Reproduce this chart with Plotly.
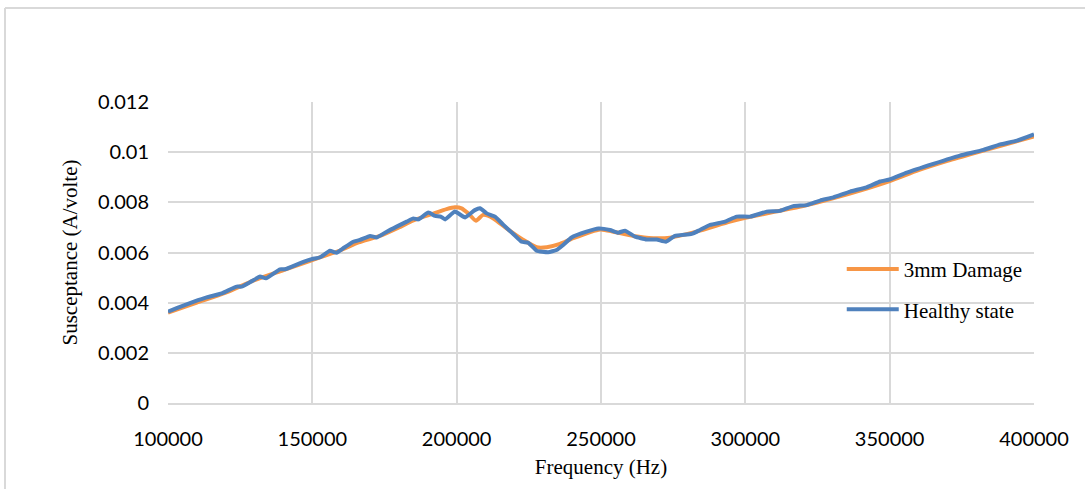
import plotly.graph_objects as go

# Healthy state (measured susceptance, A/volte) vs frequency (Hz)
healthy_freq = [
    100000, 103000, 105300, 109000, 113400, 118600, 123800, 125500, 128500,
    131900, 133900, 138800, 140500, 146900, 150000, 152700, 156100, 158400,
    160700, 164200, 166500, 170000, 172300, 175800, 179200, 182700, 185000,
    186700, 190200, 192500, 194500, 196000, 199400, 202900, 206300, 208100,
    210400, 213300, 216200, 219600, 222500, 224800, 227700, 231700, 234600,
    236900, 239800, 245000, 249100, 253100, 256000, 258300, 261800, 265800,
    269300, 272500, 275600, 281400, 284300, 287800, 293000, 297000, 301700,
    307400, 312000, 316600, 321300, 325900, 330500, 336300, 342000, 346700,
    350200, 355900, 365100, 374300, 382500, 388300, 394100, 400000,
]
healthy_b = [
    0.00364, 0.00378, 0.00388, 0.00404, 0.00421, 0.00437, 0.00464, 0.00464, 0.00482,
    0.00504, 0.00497, 0.00533, 0.00533, 0.00563, 0.00574, 0.00581, 0.00607, 0.00599,
    0.00617, 0.00643, 0.00650, 0.00666, 0.00660, 0.00683, 0.00703, 0.00723, 0.00736,
    0.00732, 0.00759, 0.00746, 0.00743, 0.00732, 0.00763, 0.00740, 0.00769, 0.00776,
    0.00756, 0.00743, 0.00710, 0.00674, 0.00643, 0.00639, 0.00607, 0.00601, 0.00610,
    0.00630, 0.00660, 0.00683, 0.00696, 0.00690, 0.00679, 0.00687, 0.00663, 0.00652,
    0.00652, 0.00643, 0.00666, 0.00674, 0.00690, 0.00710, 0.00723, 0.00743, 0.00743,
    0.00763, 0.00766, 0.00785, 0.00789, 0.00807, 0.00820, 0.00843, 0.00860, 0.00883,
    0.00892, 0.00918, 0.00953, 0.00986, 0.01009, 0.01031, 0.01046, 0.01071,
]

# 3mm damage case
damage_freq = [
    100000, 110000, 120000, 130000, 140000, 150000, 160000, 166000, 173400,
    180000, 185000, 191900, 196500, 199400, 201700, 204000, 206700, 209200,
    212700, 217300, 223100, 227700, 231200, 235800, 240400, 249700, 254300,
    261200, 268100, 273900, 283100, 294700, 300000, 310000, 320000, 330000,
    340000, 350000, 360000, 370000, 380000, 390000, 400000,
]
damage_b = [
    0.00360, 0.00400, 0.00440, 0.00490, 0.00530, 0.00570, 0.00610, 0.00640, 0.00666,
    0.00700, 0.00728, 0.00755, 0.00773, 0.00780, 0.00776, 0.00756, 0.00727, 0.00750,
    0.00736, 0.00696, 0.00650, 0.00621, 0.00621, 0.00634, 0.00657, 0.00692, 0.00683,
    0.00666, 0.00657, 0.00659, 0.00683, 0.00723, 0.00738, 0.00762, 0.00785, 0.00815,
    0.00848, 0.00885, 0.00928, 0.00965, 0.00998, 0.01030, 0.01063,
]

x_ticks = [100000, 150000, 200000, 250000, 300000, 350000, 400000]
y_ticks = [0, 0.002, 0.004, 0.006, 0.008, 0.01, 0.012]
y_tick_text = ["0", "0.002", "0.004", "0.006", "0.008", "0.01", "0.012"]

ORANGE = "#F79646"
BLUE = "#4F81BD"
GRID = "#D9D9D9"
SERIF = "Liberation Serif, Times New Roman, serif"
SANS = "Lato, Calibri, sans-serif"

fig = go.Figure()
fig.add_trace(go.Scatter(
    x=damage_freq, y=damage_b, mode="lines", name="3mm Damage",
    line=dict(color=ORANGE, width=4, shape="spline", smoothing=0.6),
    legendgroup="a",
))
fig.add_trace(go.Scatter(
    x=healthy_freq, y=healthy_b, mode="lines", name="Healthy state",
    line=dict(color=BLUE, width=4, shape="spline", smoothing=0.4),
    legendgroup="b",
))

fig.update_layout(
    width=1085, height=489,
    margin=dict(l=168, r=51, t=102, b=86),
    paper_bgcolor="white", plot_bgcolor="white",
    showlegend=True,
    legend=dict(
        x=0.778, y=0.512, xanchor="left", yanchor="top",
        font=dict(family=SERIF, size=21, color="#000000"),
        bgcolor="rgba(0,0,0,0)",
        traceorder="grouped", tracegroupgap=10,
        itemwidth=52,
    ),
    xaxis=dict(
        range=[100000, 400000], tickmode="array", tickvals=x_ticks,
        ticktext=[str(v) for v in x_ticks],
        showgrid=True, gridcolor=GRID, gridwidth=2,
        zeroline=False, showline=True, linecolor=GRID, linewidth=2,
        ticks="", ticklabelstandoff=17,
        tickfont=dict(family=SANS, size=20, color="#000000"),
        title=dict(text="Frequency (Hz)", font=dict(family=SERIF, size=21, color="#000000"), standoff=10),
        automargin=False,
    ),
    yaxis=dict(
        range=[0, 0.012], tickmode="array", tickvals=y_ticks, ticktext=y_tick_text,
        showgrid=True, gridcolor=GRID, gridwidth=2,
        zeroline=False, showline=False,
        ticks="", ticklabelstandoff=18,
        tickfont=dict(family=SANS, size=20, color="#000000"),
        title=dict(text="Susceptance (A/volte)", font=dict(family=SERIF, size=21, color="#000000"), standoff=14),
        automargin=False,
    ),
    shapes=[
        # chart frame: top and left edges
        dict(type="line", xref="paper", yref="paper", x0=-0.1882, x1=1.06, y0=1.3123, y1=1.3123,
             line=dict(color=GRID, width=2)),
        dict(type="line", xref="paper", yref="paper", x0=-0.1882, x1=-0.1882, y0=1.3123, y1=-0.29,
             line=dict(color=GRID, width=2)),
    ],
)

fig.write_html("out.html")
